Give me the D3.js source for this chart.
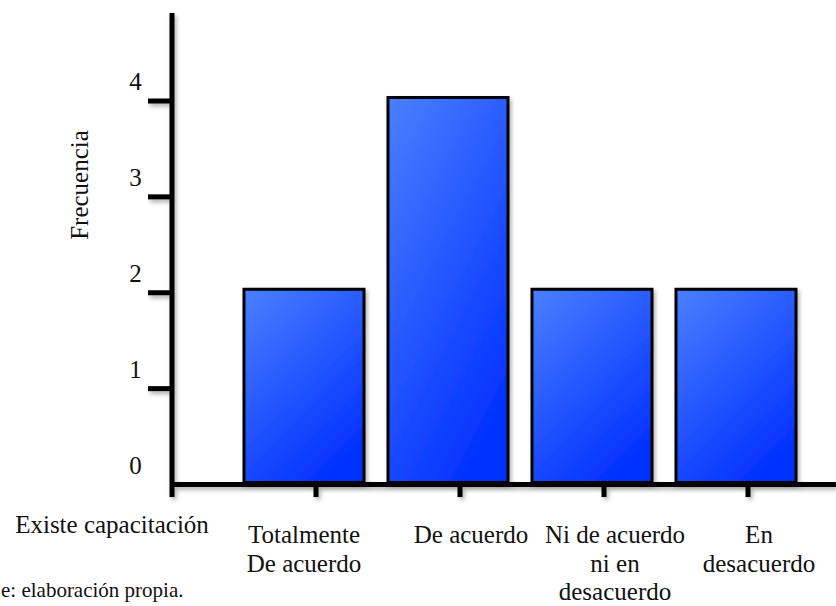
<!DOCTYPE html>
<html>
<head>
<meta charset="utf-8">
<script src="https://cdn.jsdelivr.net/npm/d3@7"></script>
<style>
  html, body { margin: 0; padding: 0; background: #fff; }
  svg { display: block; }
  text { font-family: "Liberation Serif", "Times New Roman", serif; fill: #111; }
</style>
</head>
<body>
<svg id="chart" width="836" height="606"></svg>
<script>
// ---- data ----
const categories = ["Totalmente De acuerdo", "De acuerdo", "Ni de acuerdo ni en desacuerdo", "En desacuerdo"];
const categoryLines = [["Totalmente", "De acuerdo"], ["De acuerdo"], ["Ni de acuerdo", "ni en", "desacuerdo"], ["En", "desacuerdo"]];
const values = [2, 4, 2, 2];
const yTicks = [0, 1, 2, 3, 4];
const xTitle = "Existe capacitación";
const yTitle = "Frecuencia";
const sourceNote = "e: elaboración propia.";

// ---- layout ----
const svg = d3.select("#chart");
const W = 836, H = 606;
const axisX = 172, baseY = 484.5, topY = 13;

const y = d3.scaleLinear().domain([0, 4]).range([baseY, 101]);
const x = d3.scaleBand().domain(categories).range([232, 808]).paddingInner(1 / 6).paddingOuter(1 / 12);

const defs = svg.append("defs");
const grad = defs.append("linearGradient").attr("id", "barGrad")
  .attr("x1", "0%").attr("y1", "0%").attr("x2", "60%").attr("y2", "100%");
grad.append("stop").attr("offset", "0%").attr("stop-color", "#4a80ff");
grad.append("stop").attr("offset", "100%").attr("stop-color", "#0433ff");

const sh = defs.append("filter").attr("id", "shadow")
  .attr("x", "-10%").attr("y", "-10%").attr("width", "130%").attr("height", "130%");
sh.append("feDropShadow").attr("dx", 2).attr("dy", 3).attr("stdDeviation", 2)
  .attr("flood-color", "#000").attr("flood-opacity", 0.3);

// ---- bars ----
svg.append("g").selectAll("rect").data(values).join("rect")
  .attr("x", (d, i) => x(categories[i]))
  .attr("width", x.bandwidth())
  .attr("y", d => y(d) - 3.5)
  .attr("height", d => baseY - y(d) + 3.5 - 2)
  .attr("fill", "url(#barGrad)")
  .attr("stroke", "#000")
  .attr("stroke-width", 3)
  .attr("filter", "url(#shadow)");

// ---- axes ----
const axes = svg.append("g").attr("filter", "url(#shadow)");
axes.append("line")
  .attr("x1", axisX).attr("x2", axisX)
  .attr("y1", topY).attr("y2", baseY + 12.5)
  .attr("stroke", "#000").attr("stroke-width", 5);
axes.append("line")
  .attr("x1", axisX).attr("x2", W)
  .attr("y1", baseY).attr("y2", baseY)
  .attr("stroke", "#000").attr("stroke-width", 5);
axes.selectAll(".yt").data(yTicks.filter(d => d > 0)).join("line")
  .attr("x1", axisX - 24).attr("x2", axisX)
  .attr("y1", d => y(d)).attr("y2", d => y(d))
  .attr("stroke", "#000").attr("stroke-width", 5);
axes.selectAll(".xt").data(categories).join("line")
  .attr("x1", d => x(d) + x.bandwidth() / 2 + 12)
  .attr("x2", d => x(d) + x.bandwidth() / 2 + 12)
  .attr("y1", baseY).attr("y2", baseY + 12.5)
  .attr("stroke", "#000").attr("stroke-width", 5);

// y tick labels
svg.append("g").selectAll("text").data(yTicks).join("text")
  .attr("x", 135.5)
  .attr("y", d => y(d) - 11)
  .attr("text-anchor", "middle")
  .attr("font-size", 25)
  .text(d => d);

// y title
svg.append("text")
  .attr("transform", "translate(88,185) rotate(-90)")
  .attr("text-anchor", "middle")
  .attr("font-size", 25)
  .text(yTitle);

// x category labels
const lab = svg.append("g").selectAll("text").data(categories).join("text")
  .attr("text-anchor", "middle")
  .attr("font-size", 25)
  .attr("x", (d, i) => x(d) + x.bandwidth() / 2 + (i === 0 ? 0 : 23))
  .attr("y", 543);
lab.each(function (d, i) {
  const t = d3.select(this);
  const cx = t.attr("x");
  categoryLines[i].forEach((ln, j) => {
    t.append("tspan").attr("x", cx).attr("dy", j === 0 ? 0 : 28.5).text(ln);
  });
});

// x title
svg.append("text")
  .attr("x", 112).attr("y", 533)
  .attr("text-anchor", "middle")
  .attr("font-size", 25)
  .text(xTitle);

// source note
svg.append("text")
  .attr("x", 1).attr("y", 597)
  .attr("text-anchor", "start")
  .attr("font-size", 21)
  .text(sourceNote);
</script>
</body>
</html>
